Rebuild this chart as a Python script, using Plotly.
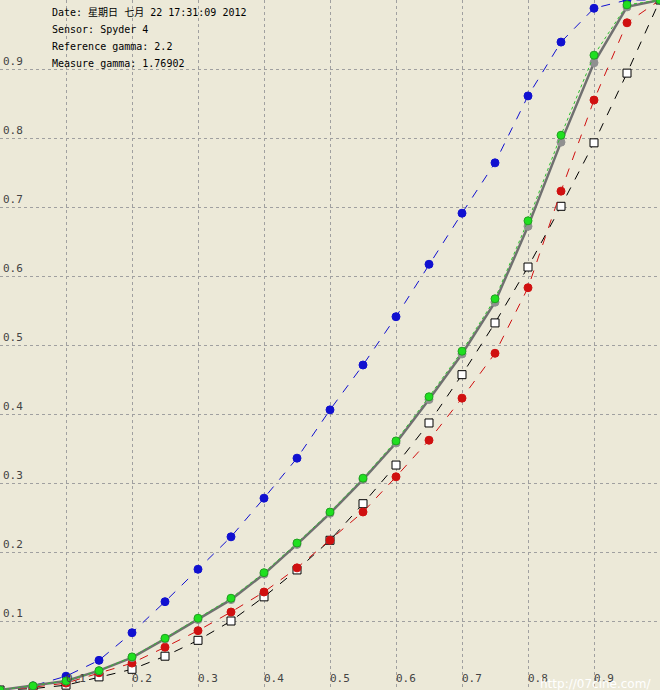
import plotly.graph_objects as go

x = [i * 0.05 for i in range(21)]
blue = [0.0, 0.006, 0.02, 0.043, 0.083, 0.128, 0.175, 0.222, 0.278, 0.336, 0.406, 0.471, 0.541, 0.617, 0.691, 0.764, 0.861, 0.939, 0.988, 1.0, 1.0]
green = [0.0, 0.006, 0.013, 0.028, 0.048, 0.075, 0.104, 0.133, 0.170, 0.213, 0.258, 0.307, 0.361, 0.425, 0.491, 0.567, 0.680, 0.804, 0.920, 0.993, 1.0]
gray = [0.0, 0.006, 0.013, 0.028, 0.047, 0.074, 0.102, 0.131, 0.168, 0.211, 0.256, 0.305, 0.358, 0.421, 0.487, 0.562, 0.672, 0.794, 0.909, 0.990, 1.0]
red = [0.0, 0.004, 0.010, 0.025, 0.039, 0.062, 0.086, 0.113, 0.142, 0.177, 0.217, 0.258, 0.309, 0.362, 0.423, 0.488, 0.583, 0.723, 0.855, 0.967, 1.0]
ref = [0.0, 0.002, 0.007, 0.019, 0.030, 0.049, 0.072, 0.100, 0.135, 0.174, 0.217, 0.270, 0.326, 0.387, 0.457, 0.532, 0.613, 0.701, 0.793, 0.894, 1.0]
ticks = [0.1, 0.2, 0.3, 0.4, 0.5, 0.6, 0.7, 0.8, 0.9]
info = ["Date: 星期日 七月 22 17:31:09 2012", "Sensor: Spyder 4", "Reference gamma: 2.2", "Measure gamma: 1.76902"]

fig = go.Figure()
def add(y, lc, mc, dash, sym="circle", lw=1, ms=8, mline=None):
    fig.add_trace(go.Scatter(x=x, y=y, mode="lines+markers", cliponaxis=False,
        line=dict(color=lc, width=lw, dash=dash),
        marker=dict(color=mc, size=ms, symbol=sym,
                    line=dict(color=mline or mc, width=1))))
add(ref, "black", "white", "dash", "square", 1, 8, "black")
add(red, "#d01010", "#d01010", "dash")
add(blue, "#1010d0", "#1010d0", "dash")
add(gray, "#707070", "#909090", "solid", lw=2.5, ms=8)
add(green, "#30c030", "#20e020", "dot", ms=8, mline="#20a020")

fig.update_layout(width=660, height=690, margin=dict(l=0, r=0, t=0, b=0),
    plot_bgcolor="#ece9d8", paper_bgcolor="#ece9d8", showlegend=False,
    font=dict(family="DejaVu Sans Mono", size=11, color="black"))
grid = dict(showgrid=True, gridcolor="#a0a0a0", griddash="dot", gridwidth=1,
            zeroline=False, tickvals=ticks, ticktext=[str(t) for t in ticks],
            showline=False, automargin=False, range=[0, 1])
fig.update_xaxes(ticklabelposition="inside right", **grid)
fig.update_yaxes(ticklabelposition="inside top", **grid)
for i, t in enumerate(info):
    fig.add_annotation(x=0.075, y=1 - 0.018 - i * 0.0245, xref="paper", yref="paper",
                       text=t, showarrow=False, xanchor="left", yanchor="middle",
                       font=dict(family="DejaVu Sans Mono, Noto Sans CJK SC", size=10))
fig.add_annotation(x=0.99, y=-0.004, xref="paper", yref="paper", text="http://07cine.com/",
                   showarrow=False, xanchor="right", yanchor="bottom",
                   font=dict(family="DejaVu Sans", size=12, color="white"))
fig.write_html("out.html", config={"displayModeBar": False},
               post_script="document.body.style.margin='0';document.body.style.overflow='hidden';")
